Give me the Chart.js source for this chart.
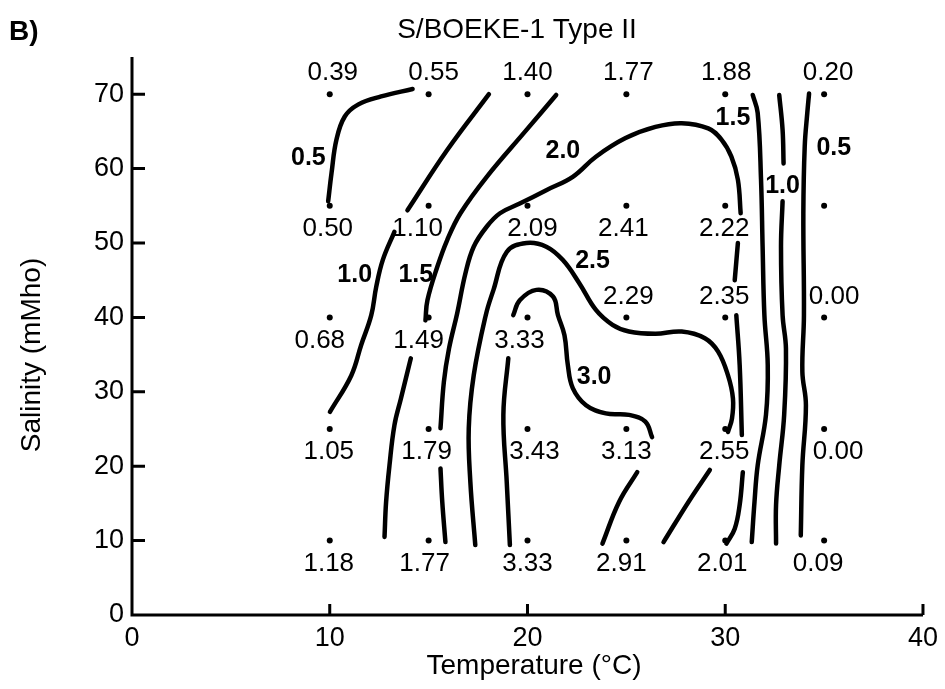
<!DOCTYPE html>
<html lang="en">
<head>
  <meta charset="UTF-8">
  <title>S/BOEKE-1 Type II</title>
  <script src="https://cdn.jsdelivr.net/npm/chart.js"></script>
  <style>
    html, body { margin: 0; padding: 0; background: #fff; }
    #wrap { width: 945px; height: 689px; }
  </style>
</head>
<body>
  <div id="wrap"><canvas id="chart"></canvas></div>
  <script>
    // sampling grid (temperature °C, salinity mMho) and measured values
    const temps = [10, 15, 20, 25, 30, 35];
    const salinities = [70, 55, 40, 25, 10];
    const row70 = [0.39, 0.55, 1.40, 1.77, 1.88, 0.20];
    const row55 = [0.50, 1.10, 2.09, 2.41, 2.22, null];
    const row40 = [0.68, 1.49, 3.33, 2.29, 2.35, 0.00];
    const row25 = [1.05, 1.79, 3.43, 3.13, 2.55, 0.00];
    const row10 = [1.18, 1.77, 3.33, 2.91, 2.01, 0.09];
    const rows = [row70, row55, row40, row25, row10];

    const xTicks = [0, 10, 20, 30, 40];
    const yTicks = [0, 10, 20, 30, 40, 50, 60, 70];

    // contour lines as [temp, salinity]; split where a number label interrupts them
    const c05left = [[9.92,55.6],[10.09,59.4],[10.34,63.9],[10.76,67.0],[11.43,68.6],[12.6,69.7],[14.19,70.7]];
    const c10leftA = [[18.05,70.0],[15.94,62.5],[13.93,54.4]];
    const c10leftB = [[13.27,51.5],[12.68,47.7],[12.35,44.1],[12.1,40.3],[11.59,36.3],[11.09,32.2],[10.01,27.3]];
    const c15leftA = [[21.45,69.9],[19.95,65.2],[17.94,58.9],[16.61,54.0],[15.94,50.4],[15.44,46.8],[14.94,42.3],[14.84,39.6]];
    const c15leftB = [[14.1,34.5],[13.6,29.1],[13.27,25.5],[13.02,20.1],[12.85,15.2],[12.77,10.5]];
    const c20A = [[15.85,9.8],[15.69,15.2],[15.6,19.7]];
    const c20B = [[15.6,25.1],[15.77,31.3],[16.03,35.8],[16.44,40.5],[16.86,45.9],[17.28,49.5],[17.94,52.2],[18.61,54.0],[19.61,55.3],[20.95,57.1],[22.29,58.9],[23.46,61.6],[24.96,64.1],[26.47,65.6],[27.8,66.1],[29.14,65.4],[29.81,63.9],[30.31,61.6],[30.64,58.5],[30.78,54.0]];
    const c20C = [[30.64,50.0],[30.48,45.0]];
    const c20D = [[30.56,40.3],[30.73,33.6],[30.84,24.2]];
    const c20E = [[30.89,19.2],[30.73,14.8],[30.48,11.6],[30.06,9.6]];
    const c25A = [[17.36,9.4],[17.11,17.9],[17.03,25.1],[17.28,32.2],[17.89,40.3],[18.28,43.7],[18.95,48.8],[19.95,50.0],[20.95,49.5],[21.79,47.7],[22.62,44.6],[23.46,41.0],[24.3,39.0],[25.13,38.1],[26.47,37.8],[27.8,38.1],[28.97,37.2],[29.64,35.4],[30.14,32.2],[30.39,29.1],[30.34,26.4],[30.14,24.6]];
    const c25B = [[29.22,19.5],[28.14,15.2],[26.88,9.8]];
    const c30A = [[19.11,9.4],[18.95,17.9],[18.78,26.9],[19.03,34.5]];
    const c30B = [[19.28,40.3],[19.61,42.3],[20.45,43.7],[21.29,42.8],[21.54,40.3],[21.87,37.6],[22.04,33.6],[22.29,30.5],[22.96,28.2],[23.96,27.1],[25.13,26.9],[25.96,26.0],[26.3,23.9]];
    const c30C = [[25.55,19.2],[24.63,15.2],[23.79,9.6]];
    const c15right = [[31.39,69.9],[31.64,67.5],[31.81,58.5],[31.89,49.5],[31.98,40.3],[32.15,33.6],[32.06,26.9],[31.64,20.1],[31.48,15.2],[31.34,9.8]];
    const c10rightA = [[32.73,69.9],[32.9,65.2],[32.95,60.7]];
    const c10rightB = [[32.9,55.6],[32.82,49.5],[32.9,40.3],[33.07,35.8],[32.98,26.9],[32.73,20.1],[32.57,14.8],[32.57,9.6]];
    const c05right = [[34.24,70.1],[34.15,67.5],[34.02,63.0],[33.95,54.0],[33.98,40.3],[33.9,32.7],[34.08,28.2],[33.9,20.1],[33.82,10.7]];

    const contourSegments = [c05left, c10leftA, c10leftB, c15leftA, c15leftB, c20A, c20B, c20C, c20D, c20E,
      c25A, c25B, c30A, c30B, c30C, c15right, c10rightA, c10rightB, c05right];

    // contour level labels and where they sit (data units)
    const contourLevels = ['0.5', '1.0', '1.5', '2.0', '2.5', '3.0', '1.5', '1.0', '0.5'];
    const contourLabelX = [8.92, 11.26, 14.35, 21.79, 23.29, 23.37, 30.39, 32.90, 35.49];
    const contourLabelY = [61.4, 45.7, 45.7, 62.3, 47.5, 32.0, 66.8, 57.6, 62.7];

    // small horizontal nudges (px) for the value labels, same layout as rows
    const labelNudge = [
      [3, 5, 0, 2, 1, 4],
      [-2, -11, 5, -3, -1, 0],
      [-10, -10, -8, 2, -1, 10],
      [-1, -2, 7, 0, -1, 14],
      [-1, -4, 0, -5, -3, -6]
    ];

    const FONT = '"Liberation Sans", Arial, Helvetica, sans-serif';

    const gridDots = [];
    salinities.forEach(s => temps.forEach(t => gridDots.push({ x: t, y: s })));

    const datasets = contourSegments.map(seg => ({
      data: seg.map(([x, y]) => ({ x, y })),
      showLine: true,
      borderColor: '#000',
      borderWidth: 4.5,
      borderCapStyle: 'round',
      pointRadius: 0,
      tension: 0.4,
      fill: false
    }));
    datasets.push({ data: gridDots, pointRadius: 3, pointBackgroundColor: '#000', pointBorderWidth: 0, showLine: false });

    // axis lines with inward ticks, titles, and all the annotation text
    const decor = {
      id: 'decor',
      afterDraw(chart) {
        const { ctx, chartArea: a, scales: { x, y } } = chart;
        ctx.save();
        ctx.strokeStyle = '#000';
        ctx.lineWidth = 3;
        ctx.beginPath();
        ctx.moveTo(a.left, a.top);
        ctx.lineTo(a.left, a.bottom);
        ctx.lineTo(a.right, a.bottom);
        yTicks.forEach(v => {
          if (v === 0) return;
          const py = y.getPixelForValue(v);
          ctx.moveTo(a.left, py); ctx.lineTo(a.left + 13, py);
        });
        xTicks.forEach(v => {
          if (v === 0) return;
          const px = x.getPixelForValue(v);
          ctx.moveTo(px, a.bottom); ctx.lineTo(px, a.bottom - 11);
        });
        ctx.stroke();

        ctx.fillStyle = '#000';
        ctx.textBaseline = 'middle';

        // measured values at each grid point
        ctx.font = '26px ' + FONT;
        ctx.textAlign = 'center';
        rows.forEach((row, r) => {
          const s = salinities[r];
          row.forEach((v, c) => {
            if (v === null) return;
            const t = temps[c];
            const above = s === 70 || (s === 40 && t >= 25);
            const px = x.getPixelForValue(t) + labelNudge[r][c];
            const py = y.getPixelForValue(s) + (above ? -21 : 23);
            ctx.fillText(v.toFixed(2), px, py);
          });
        });

        // contour level labels
        ctx.font = 'bold 25px ' + FONT;
        contourLevels.forEach((lab, i) => {
          ctx.fillText(lab, x.getPixelForValue(contourLabelX[i]), y.getPixelForValue(contourLabelY[i]));
        });

        // axis titles
        ctx.font = '28px ' + FONT;
        ctx.fillText('Temperature (°C)', 534, 666);
        ctx.save();
        ctx.translate(32, 355);
        ctx.rotate(-Math.PI / 2);
        ctx.fillText('Salinity (mMho)', 0, 0);
        ctx.restore();

        // panel letter and title
        ctx.fillText('S/BOEKE-1 Type II', 517, 30);
        ctx.font = 'bold 28px ' + FONT;
        ctx.textAlign = 'left';
        ctx.fillText('B)', 9, 32);
        ctx.restore();
      }
    };

    new Chart(document.getElementById('chart'), {
      type: 'scatter',
      data: { datasets },
      options: {
        responsive: true,
        maintainAspectRatio: false,
        animation: false,
        layout: { padding: { top: 57, right: 14, left: 0, bottom: 0 } },
        plugins: { legend: { display: false }, tooltip: { enabled: false } },
        scales: {
          x: {
            type: 'linear', min: 0, max: 40,
            grid: { display: false, drawTicks: false },
            border: { display: false },
            afterBuildTicks: s => { s.ticks = xTicks.map(v => ({ value: v })); },
            afterFit: s => { s.height = 74; },
            ticks: { color: '#000', font: { family: FONT, size: 27 }, padding: 7, maxRotation: 0 }
          },
          y: {
            type: 'linear', min: 0, max: 75,
            grid: { display: false, drawTicks: false },
            border: { display: false },
            afterBuildTicks: s => { s.ticks = yTicks.map(v => ({ value: v })); },
            afterFit: s => { s.width = 132; },
            ticks: { color: '#000', font: { family: FONT, size: 27 }, padding: 8 }
          }
        }
      },
      plugins: [decor]
    });
  </script>
</body>
</html>
